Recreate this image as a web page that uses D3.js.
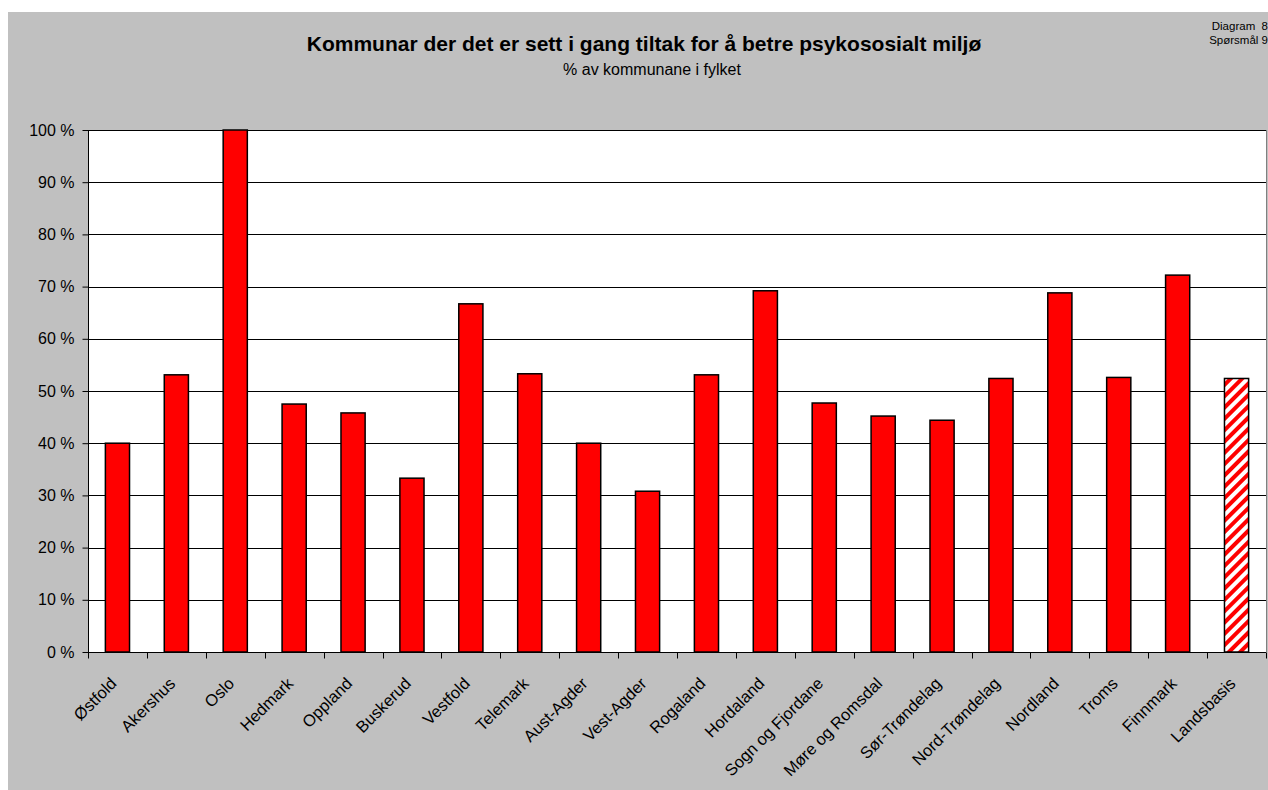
<!DOCTYPE html>
<html><head><meta charset="utf-8">
<script src="https://cdn.jsdelivr.net/npm/d3@7"></script>
<style>
html,body{margin:0;padding:0;background:#fff;}
text{font-family:"Liberation Sans",Arial,sans-serif;fill:#000;}
</style></head>
<body>
<svg id="c" width="1268" height="790"></svg>
<script>
const categories = ["Østfold","Akershus","Oslo","Hedmark","Oppland","Buskerud","Vestfold","Telemark","Aust-Agder","Vest-Agder","Rogaland","Hordaland","Sogn og Fjordane","Møre og Romsdal","Sør-Trøndelag","Nord-Trøndelag","Nordland","Troms","Finnmark","Landsbasis"];
const values = [40.0,53.1,100,47.5,45.8,33.3,66.7,53.3,40.0,30.8,53.1,69.2,47.7,45.2,44.4,52.4,68.8,52.6,72.2,52.4];
const yTicks = [0,10,20,30,40,50,60,70,80,90,100];
const title = "Kommunar der det er sett i gang tiltak for å betre psykososialt miljø";
const subtitle = "% av kommunane i fylket";
const corner = ["Diagram  8","Spørsmål 9"];

const svg = d3.select("#c");
const defs = svg.append("defs");
const pat = defs.append("pattern").attr("id","hatch").attr("patternUnits","userSpaceOnUse")
  .attr("width",8).attr("height",8).attr("patternTransform","rotate(45)");
pat.append("rect").attr("width",8).attr("height",8).attr("fill","#fff");
pat.append("rect").attr("x",0).attr("width",4).attr("height",8).attr("fill","#ff0000");

svg.append("rect").attr("x",8).attr("y",12).attr("width",1260).attr("height",778).attr("fill","#c0c0c0");

const L=88, R=1266, T=130, B=652;
const x = d3.scaleBand().domain(categories).range([L,R]).paddingInner(0.59).paddingOuter(0.295);
const xb = d3.scaleBand().domain(categories).range([L,R]);
const y = d3.scaleLinear().domain([0,100]).range([B,T]);

svg.append("rect").attr("x",L).attr("y",T).attr("width",R-L).attr("height",B-T).attr("fill","#fff");

svg.append("g").selectAll("line").data(yTicks).join("line")
  .attr("x1",L).attr("x2",R).attr("y1",d=>Math.round(y(d))+0.5).attr("y2",d=>Math.round(y(d))+0.5)
  .attr("stroke","#000").attr("stroke-width",1);
svg.append("line").attr("x1",R+0.5).attr("x2",R+0.5).attr("y1",T).attr("y2",B).attr("stroke","#808080");

svg.append("g").selectAll("rect").data(categories).join("rect")
  .attr("x",d=>x(d)).attr("width",x.bandwidth())
  .attr("y",(d,i)=>y(values[i])).attr("height",(d,i)=>B-y(values[i]))
  .attr("fill",d=>d==="Landsbasis"?"url(#hatch)":"#ff0000")
  .attr("stroke","#000").attr("stroke-width",1.5);

// y axis
const ya = svg.append("g").attr("transform",`translate(${L+0.5},0)`)
  .call(d3.axisLeft(y).tickValues(yTicks).tickSize(6).tickFormat(d=>d+" %"));
ya.select(".domain").attr("stroke","#000").attr("d",`M0,${T}V${B}`);
ya.selectAll(".tick line").attr("stroke","#000");
ya.selectAll(".tick text").attr("x",-14).attr("font-size",16).attr("font-family","Liberation Sans, Arial, sans-serif").attr("fill","#000");

// x axis
const xa = svg.append("g").attr("transform",`translate(0,${B+0.5})`);
xa.append("line").attr("x1",L).attr("x2",R).attr("stroke","#000");
const tickPos = categories.map(c=>xb(c)).concat([R]);
xa.selectAll("line.t").data(tickPos).join("line").attr("class","t")
  .attr("x1",d=>Math.round(d)+0.5).attr("x2",d=>Math.round(d)+0.5).attr("y1",0).attr("y2",6).attr("stroke","#000");
xa.selectAll("text").data(categories).join("text")
  .attr("transform",d=>`translate(${xb(d)+xb.bandwidth()/2-4},${28}) rotate(-45)`)
  .attr("text-anchor","end").attr("font-size",16.5).attr("dy","0.35em").text(d=>d);

svg.append("text").attr("x",644).attr("y",51).attr("text-anchor","middle").attr("font-size",21).attr("font-weight","bold").text(title);
svg.append("text").attr("x",652).attr("y",75).attr("text-anchor","middle").attr("font-size",16).text(subtitle);
svg.selectAll("text.corner").data(corner).join("text").attr("class","corner")
  .attr("x",1268).attr("y",(d,i)=>30+i*14).attr("text-anchor","end").attr("font-size",11.5)
  .style("white-space","pre").text(d=>d);
</script>
</body></html>
